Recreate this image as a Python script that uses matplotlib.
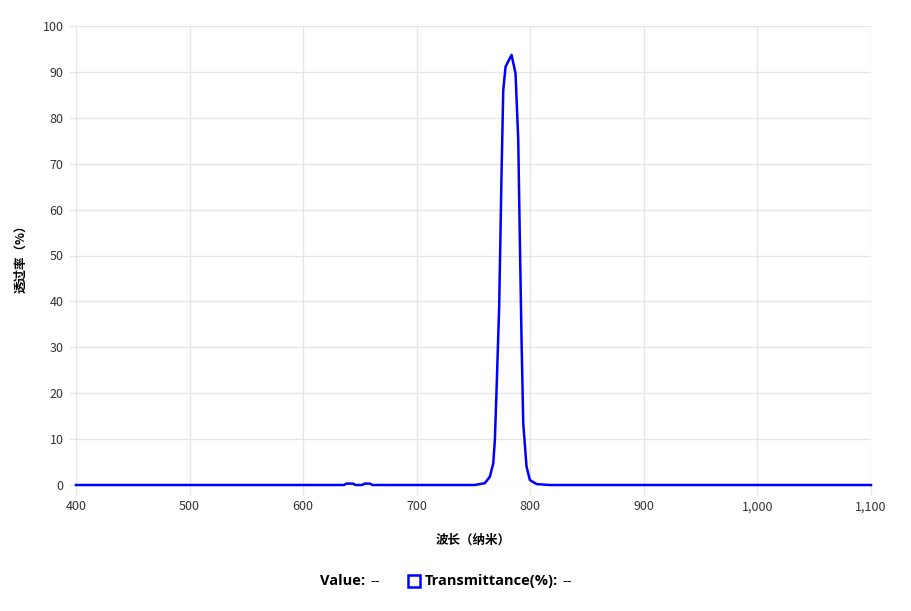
import matplotlib
matplotlib.use("Agg")
from matplotlib import pyplot as plt
from matplotlib.ticker import FuncFormatter
from matplotlib.patches import Rectangle

plt.rcParams['font.family'] = ['Noto Sans CJK SC', 'DejaVu Sans']

# wavelength (nm) and transmittance (%)
wavelength = [400, 636, 638, 644, 646, 652, 654, 659, 661, 751, 760, 764.4, 767.4,
              768.8, 770.3, 772.6, 774.7, 776.2, 778.2, 781.2, 783.5, 787, 789.4,
              790.8, 792.3, 793.8, 796.7, 799.6, 805.5, 817, 1100]
transmittance = [0, 0, 0.3, 0.3, 0, 0, 0.3, 0.3, 0, 0, 0.4, 1.8, 4.7,
                 9.8, 20.7, 38.8, 67.9, 86.0, 91.1, 92.6, 93.7, 89.7, 75.2,
                 53.4, 31.6, 13.4, 4.0, 1.1, 0.2, 0, 0]

x_ticks = list(range(400, 1101, 100))
y_ticks = list(range(0, 101, 10))

fig = plt.figure(figsize=(9.11, 6.11), dpi=100)
ax = fig.add_axes([76 / 911, 1 - 485 / 611, 795 / 911, 459 / 611])

grid_color = '#e6e6e6'
ax.set_xlim(400, 1100)
ax.set_ylim(0, 100)
ax.set_xticks(x_ticks)
ax.set_yticks(y_ticks)
ax.xaxis.set_major_formatter(FuncFormatter(lambda v, p: f"{int(v):,}"))
ax.grid(True, color=grid_color, linewidth=1)
ax.set_axisbelow(True)
for s in ax.spines.values():
    s.set_visible(False)
ax.tick_params(axis='x', color=grid_color, length=7, width=1, labelsize=9,
               labelcolor='#333333', pad=4)
ax.tick_params(axis='y', color=grid_color, length=5, width=1, labelsize=9,
               labelcolor='#333333', pad=4)

ax.plot(wavelength, transmittance, color='#0000ff', linewidth=1.8, clip_on=False)

ax.set_xlabel('波长（纳米）', fontsize=9, fontweight='bold', labelpad=15)
ax.set_ylabel('透过率（%）', fontsize=9, fontweight='bold', labelpad=11)

# legend row at the bottom
fig.text(320 / 911, 1 - 581 / 611, 'Value:', fontsize=10.5, fontweight='bold',
         va='center', ha='left', family=['Open Sans', 'DejaVu Sans'])
fig.text(370 / 911, 1 - 581 / 611, '--', fontsize=10.5, va='center', ha='left',
         family=['Open Sans', 'DejaVu Sans'])
fig.patches.append(Rectangle((408 / 911, 1 - 587 / 611), 12 / 911, 12 / 611,
                             transform=fig.transFigure, fill=False,
                             edgecolor='#0000ff', linewidth=1.8))
fig.text(425 / 911, 1 - 581 / 611, 'Transmittance(%):', fontsize=10.5,
         fontweight='bold', va='center', ha='left',
         family=['Open Sans', 'DejaVu Sans'])
fig.text(562 / 911, 1 - 581 / 611, '--', fontsize=10.5, va='center', ha='left',
         family=['Open Sans', 'DejaVu Sans'])

fig.savefig('out.png', dpi=100)
